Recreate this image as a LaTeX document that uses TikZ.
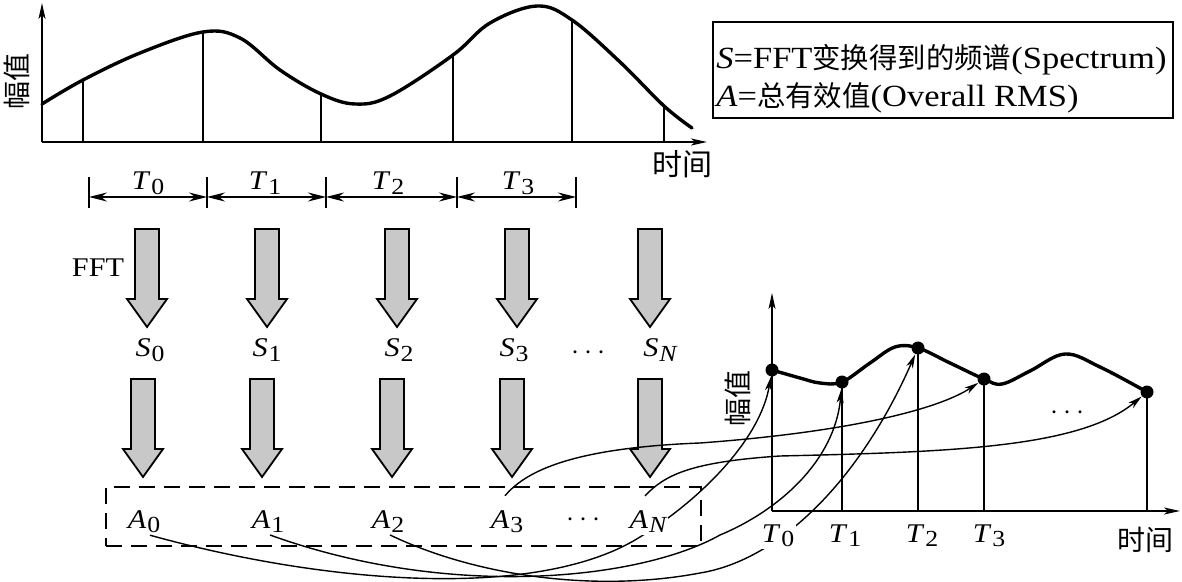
\documentclass[tikz,border=0pt]{standalone}
\usepackage{fontspec}
\usepackage{amsmath}
\setmainfont{Liberation Serif}[FakeStretch=1.12]
\newfontfamily\cjk{Noto Sans CJK SC}
\usetikzlibrary{arrows.meta}
\pgfdeclarelayer{fg}
\pgfsetlayers{main,fg}
\definecolor{arrowgray}{RGB}{200,200,200}
\newcommand{\ms}[2]{\textit{#1}\kern0.03em\raisebox{-0.17em}{\fontsize{11.5}{12}\selectfont #2}}
\tikzset{
  fatarrow/.pic={\draw[fill=arrowgray, line width=0.9pt, line join=miter]
     (-12,0) -- (-12,70) -- (-20,70) -- (0,98) -- (20,70) -- (12,70) -- (12,0) -- cycle;}
}
\begin{document}
\begin{tikzpicture}[x=0.5pt,y=-0.5pt,
  lab/.style={font=\fontsize{13.5}{15}\selectfont, inner sep=1pt, anchor=base},
  cjklab/.style={font=\cjk\fontsize{14}{16}\selectfont, inner sep=0pt},
  axis/.style={line width=0.75pt, -{Stealth[length=8pt,width=3.5pt,inset=2pt]}},
  thickcurve/.style={line width=1.7pt, line join=round, line cap=round},
  thinline/.style={line width=0.7pt},
  dim/.style={line width=0.6pt, {Stealth[length=9pt,width=4.5pt,inset=3pt]}-{Stealth[length=9pt,width=4.5pt,inset=3pt]}},
  link/.style={line width=0.7pt, -{Stealth[length=7pt,width=3.5pt,inset=2pt]}},
  dot/.style={circle, fill=black, inner sep=0pt, minimum size=6.5pt}
]
\useasboundingbox (0,0) rectangle (1182,582);

% ---------- top chart ----------
\coordinate (o1) at (42,142);
\draw[axis] (o1) -- (42,3);
\draw[axis] (o1) -- (707,142);
\draw[thickcurve] plot[smooth, tension=0.6] coordinates {(42,104) (83,80) (140,53) (203,32) (240,38) (280,70) (321,94) (355,104) (390,96) (453,55) (490,23) (537,6) (572,20) (620,62) (664,106) (692,128)};
\foreach \x/\y in {83/80,203/32,321/94,453/55,664/106}
  \draw[thinline] (\x,142) -- (\x,\y);
\draw[line width=1pt] (572,142) -- (572,20);
\node[cjklab, rotate=90] (ylab1) at (17,82) {幅值};
\node[cjklab, font=\cjk\fontsize{15}{17}\selectfont] (xlab1) at (682,164) {时间};

% ---------- dimension line ----------
\foreach \i/\x in {0/89,1/207,2/326,3/457,4/576}
  \coordinate (k\i) at (\x,197);
\foreach \i in {0,...,4}
  \draw[thinline] (k\i) ++(0,-20) -- ++(0,31);
\draw[dim] (k0) -- (k1);
\draw[dim] (k1) -- (k2);
\draw[dim] (k2) -- (k3);
\draw[dim] (k3) -- (k4);
\node[lab] (tt0) at (148,190) {\ms{T}{0}};
\node[lab] (tt1) at (265,190) {\ms{T}{1}};
\node[lab] (tt2) at (388,190) {\ms{T}{2}};
\node[lab] (tt3) at (518,190) {\ms{T}{3}};

% ---------- legend ----------
\node[draw, line width=0.75pt, minimum width=230pt, minimum height=48pt] (legendbox) at (943,70) {};
\node[anchor=base west, align=left, inner sep=0pt, font=\fontsize{15.4}{19}\selectfont] (legend) at (716,107)
  {\textit{S}=FFT{\cjk\fontsize{14.2}{19}\selectfont 变换得到的频谱}(Spectrum)\\
   \textit{A}={\cjk\fontsize{14.2}{19}\selectfont 总有效值}(Overall RMS)};

% ---------- big arrows ----------
\foreach \x in {147,267,397,517,650}
  \pic at (\x,229) {fatarrow};
\foreach \x in {143,262,392,512,650}
  \pic at (\x,379) {fatarrow};
\node[lab] (fft) at (98,277) {FFT};

% ---------- S labels ----------
\node[lab] (s0) at (150,357) {\ms{S}{0}};
\node[lab] (s1) at (267,357) {\ms{S}{1}};
\node[lab] (s2) at (399,357) {\ms{S}{2}};
\node[lab] (s3) at (514,357) {\ms{S}{3}};
\node[lab, anchor=center] (sdots) at (591,353) {$\cdots$};
\node[lab] (sN) at (660,357) {\ms{S}{\itshape N}};

% ---------- A labels ----------
\node[draw, dash pattern=on 8pt off 4.5pt, line width=1pt, minimum width=297.5pt, minimum height=29.5pt] (abox) at (403.5,516.5) {};
\node[lab] (a0) at (144,528) {\ms{A}{0}};
\node[lab] (a1) at (268,528) {\ms{A}{1}};
\node[lab] (a2) at (388,528) {\ms{A}{2}};
\node[lab] (a3) at (507,528) {\ms{A}{3}};
\node[lab, anchor=center] (adots) at (586,520) {$\cdots$};
\begin{pgfonlayer}{fg}
\node[lab, fill=white] (aN) at (648,528) {\ms{A}{\itshape N}};
\end{pgfonlayer}

% ---------- right chart ----------
\coordinate (o2) at (772,511);
\draw[axis] (o2) -- (772,293);
\draw[axis] (o2) -- (1180,511);
\node[dot] (d0) at (772,370) {};
\node[dot] (d1) at (842,382) {};
\node[dot] (d2) at (918,348) {};
\node[dot] (d3) at (984,379) {};
\node[dot] (dN) at (1147,392) {};
\foreach \n in {d1,d2,d3,dN}
  \draw[thinline] (\n.center) -- (\n.center |- o2);
\draw[thickcurve] plot[smooth, tension=0.6] coordinates {(772,370) (800,378) (820,383) (842,382) (870,363) (895,347) (918,348) (950,363) (984,379) (1002,384) (1030,371) (1065,354) (1100,367) (1147,392)};
\node[lab, anchor=center] (rdots) at (1070,413) {$\cdots$};
\node[cjklab, rotate=90] (ylab2) at (738,398) {幅值};
\node[cjklab] (xlab2) at (1145,540) {时间};
\begin{pgfonlayer}{fg}
\node[lab, fill=white] (r0) at (778,542) {\ms{T}{0}};
\end{pgfonlayer}
\node[lab] (r1) at (845,542) {\ms{T}{1}};
\node[lab] (r2) at (922,542) {\ms{T}{2}};
\node[lab] (r3) at (989,542) {\ms{T}{3}};

% ---------- links ----------
\draw[link] ([xshift=3pt]a0.south) .. controls (330,585) and (540,600) .. (640,537)
   .. controls (700,500) and (760,440) .. (d0);
\draw[link] ([xshift=1pt]a1.south) .. controls (450,600) and (640,580) .. (720,535)
   .. controls (780,510) and (835,460) .. (d1);
\draw[link] ([xshift=1pt]a2.south) .. controls (480,578) and (600,592) .. (700,573)
   .. controls (780,560) and (860,480) .. (d2);
\draw[link] ([xshift=-1pt,yshift=6pt]a3.north) .. controls (525,472) and (570,448) .. (700,443)
   .. controls (850,432) and (939,409) .. (d3);
\draw[link] ([xshift=-1.5pt,yshift=6pt]aN.north) .. controls (665,475) and (690,462) .. (780,456)
   .. controls (950,452) and (1080,448) .. (dN);
\end{tikzpicture}
\end{document}
